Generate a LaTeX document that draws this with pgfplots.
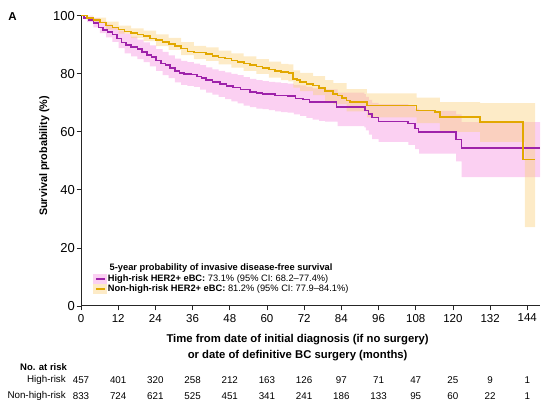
\documentclass[border=0pt]{standalone}
\usepackage{fontspec}
\setmainfont{Liberation Sans}
\usepackage{pgfplots}
\usepackage{pgfplotstable}
\pgfplotsset{compat=1.18}
\usepgfplotslibrary{fillbetween}
\definecolor{purpleline}{RGB}{158,34,170}
\definecolor{pinkband}{RGB}{246,150,226}
\definecolor{yellowline}{RGB}{226,168,0}
\definecolor{yellowband}{RGB}{250,210,130}

\pgfplotstableread{
m v
0 100
1 99.2
2.5 98.6
4 97.5
5.6 96
7.1 95
8.6 94.3
10.1 93.5
11.6 92.2
13.1 90.8
14.6 90
16.2 89.3
18.2 88.5
19.7 87.5
21.2 86.5
22.7 85.7
24.2 84.5
25.8 83.6
27.3 83
28.8 82
30.3 81
31.8 80.3
33.3 80
35.4 79.8
37.4 79.1
38.9 78.6
40.4 77.8
42.4 77.1
44.9 76.5
47 75.8
49 75.2
51.5 74.6
54.5 73.8
56.6 73.4
58.6 73.1
62.6 72.5
66.7 72.3
69.2 71.5
71.7 71.1
73.7 70.2
82.5 68.5
91.6 67.4
92.7 66.2
93.8 65
96 63.6
105.6 62.8
107.8 61.1
108.9 59.9
121 57.4
122.8 54.4
148.1 54.4
}\highrisk

\pgfplotstableread{
m v
0 100
2 99.2
4 98.5
6.1 97.6
8.1 96.6
10.1 96
12.1 95.2
14.1 94.6
16.2 94
18.2 93.5
20.2 93.1
22.2 92.2
24.2 91.6
26.3 91
28.3 90.3
30.3 89.5
32.3 88.7
34.3 87.6
36.4 87.3
40.4 86.8
42.4 86.2
44.4 85.6
46.5 85.2
48.5 84.6
50.5 84
52.5 83.5
54.5 83
56.6 82.5
58.6 82
60.6 81.4
62.6 81
64.6 80.6
66.9 80.3
68.5 78.2
69.7 77.8
70.7 77.1
72.7 76.5
74.9 75.9
76.8 75
78.8 74.1
81.4 73.1
82.8 72.5
84.3 71.6
85.7 70.8
86.8 70.2
92.2 69.1
108.3 67.4
114.2 66.8
115.8 65.1
128.8 63.3
142.7 50.4
146.5 50.4
}\nonhighrisk

\pgfplotstableread{
m up lo
0 100 99.9
2 99.8 97.8
4 99.2 96
6.1 98 94
8.1 97 92.5
10.1 96 91
12.1 94.8 88.8
14.1 93.8 87
16.2 92.8 86
18.2 91.8 85
20.2 90.8 84
22.2 89.8 82.5
24.2 88.5 81
26.3 87.5 79.5
28.3 86.3 78.5
30.3 85.2 77
32.3 84.4 76.2
34.3 84 75.8
36.4 83.5 75.5
38.4 83 74.5
40.4 82.2 73.5
42.4 81.5 72.8
44.4 81 72
46.5 80.5 71.3
48.5 80 70.5
50.5 79.5 69.8
52.5 78.8 69
54.5 78.2 68.5
56.6 77.8 68
58.6 77.5 67.8
60.6 77.2 67.5
62.6 77 67
64.6 76.8 66.8
66.7 76.6 66.6
68.7 76.2 66
70.7 76 65.5
72.7 75.5 64.8
74.7 75 64.2
76.8 74.8 63.8
78.8 74.6 63.5
82.8 73.5 62
91.4 73 61.5
91.9 72 60.5
92.9 71 59
93.9 70 57.5
96 69.5 56.5
105.6 69 55.5
107.8 68 54
109.1 67.2 52.5
121 66 49.8
122.8 63.3 44.4
148.1 63.3 44.4
}\highband

\pgfplotstableread{
m up lo
0 100 99.9
4 99.3 97.6
8.1 98 95.2
12.1 96.6 93.8
16.2 95.6 92.3
20.2 94.9 91.2
24.2 93.6 89.5
28.3 92.4 88.2
32.3 90.9 86.4
36.4 89.6 85
40.4 89.1 84.4
44.4 88 83.2
48.5 87 82.1
52.5 86 81
56.6 85 80
60.6 84.2 78.7
64.6 83.4 77.8
66.9 83.2 77.4
68.5 81.2 75.2
70.7 80.3 74
74.9 79.2 72.6
78.8 77.8 70.5
81.4 76.8 69.5
85.7 74.7 67
92.2 73.2 65
108.3 71.8 63
115.8 70.2 60
128.8 69.9 56.5
143.2 69.9 27.2
146.5 69.9 27.2
}\nonband

\begin{document}
\begin{tikzpicture}
\path (0,0) rectangle (550pt,410pt);
\node[anchor=center, font=\fontsize{11.5}{14}\selectfont\bfseries] at (12.5pt,393pt) {A};
\begin{axis}[
  scale only axis, width=459pt, height=290.3pt,
  at={(81pt,104pt)}, anchor=south west,
  xmin=0, xmax=148.1, ymin=0, ymax=100,
  axis x line*=bottom, axis y line*=left,
  axis line style={-, line width=1pt, black!85},
  xtick={0,12,...,144}, ytick={0,20,...,100},
  tick align=outside, major tick length=4.5pt,
  tick style={black!85, line width=0.8pt},
  xticklabel style={font=\fontsize{11.5}{13}\selectfont},
  yticklabel style={font=\fontsize{13}{15}\selectfont, inner sep=1.5pt},
  /pgf/number format/assume math mode=true,
  clip=false, no markers,
  legend style={at={(axis cs:3.9,7.65)}, anchor=west, draw=none, fill=none,
    font=\fontsize{9.3}{11}\selectfont, inner sep=0pt, row sep=0pt,
    nodes={inner sep=0.6pt}},
  legend cell align=left,
]
\addplot[name path=hu, draw=none, const plot, forget plot] table[x=m, y=up] {\highband};
\addplot[name path=hl, draw=none, const plot, forget plot] table[x=m, y=lo] {\highband};
\addplot[fill=pinkband, fill opacity=0.45, draw=none, forget plot] fill between[of=hu and hl];
\addplot[name path=nu, draw=none, const plot, forget plot] table[x=m, y=up] {\nonband};
\addplot[name path=nl, draw=none, const plot, forget plot] table[x=m, y=lo] {\nonband};
\addplot[fill=yellowband, fill opacity=0.45, draw=none, forget plot] fill between[of=nu and nl];
\addplot[purpleline, line width=1.6pt, const plot, forget plot] table[x=m, y=v] {\highrisk};
\addplot[yellowline, line width=1.6pt, const plot, forget plot] table[x=m, y=v] {\nonhighrisk};

\addlegendimage{legend image code/.code={
  \path[fill=pinkband, fill opacity=0.45, draw=none] (0pt,-5pt) rectangle (14pt,5pt);
  \path[draw=purpleline, line width=1.8pt] (3pt,0pt) -- (12pt,0pt);}}
\addlegendentry{\textbf{High-risk HER2+ eBC:} 73.1\% (95\% CI: 68.2--77.4\%)}
\addlegendimage{legend image code/.code={
  \path[fill=yellowband, fill opacity=0.45, draw=none] (0pt,-5pt) rectangle (14pt,5pt);
  \path[draw=yellowline, line width=1.8pt] (3pt,0pt) -- (12pt,0pt);}}
\addlegendentry{\textbf{Non-high-risk HER2+ eBC:} 81.2\% (95\% CI: 77.9--84.1\%)}

\node[anchor=west, inner sep=0pt, font=\fontsize{9.3}{11}\selectfont\bfseries] at (axis cs:9.2,13.2) {5-year probability of invasive disease-free survival};

\node[rotate=90, font=\fontsize{10.8}{13}\selectfont\bfseries] at (axis cs:-11.8,51.7) {Survival probability (\%)};
\node[align=center, font=\fontsize{11.3}{15.5}\selectfont\bfseries] at (axis cs:69.9,-14.4) {Time from date of initial diagnosis (if no surgery)\\or date of definitive BC surgery (months)};

\node[anchor=west, inner sep=0pt, font=\fontsize{9.5}{11}\selectfont\bfseries] at (axis cs:-19.7,-21.2) {No. at risk};
\node[anchor=east, inner sep=0pt, font=\fontsize{9.8}{11}\selectfont] at (axis cs:-4.84,-25.5) {High-risk};
\node[anchor=east, inner sep=0pt, font=\fontsize{9.8}{11}\selectfont] at (axis cs:-4.84,-30.9) {Non-high-risk};
\begin{scope}[every node/.style={font=\fontsize{9.8}{11}\selectfont}]
\node at (axis cs:0,-25.5) {457};
\node at (axis cs:12,-25.5) {401};
\node at (axis cs:24,-25.5) {320};
\node at (axis cs:36,-25.5) {258};
\node at (axis cs:48,-25.5) {212};
\node at (axis cs:60,-25.5) {163};
\node at (axis cs:72,-25.5) {126};
\node at (axis cs:84,-25.5) {97};
\node at (axis cs:96,-25.5) {71};
\node at (axis cs:108,-25.5) {47};
\node at (axis cs:120,-25.5) {25};
\node at (axis cs:132,-25.5) {9};
\node at (axis cs:144,-25.5) {1};
\node at (axis cs:0,-30.9) {833};
\node at (axis cs:12,-30.9) {724};
\node at (axis cs:24,-30.9) {621};
\node at (axis cs:36,-30.9) {525};
\node at (axis cs:48,-30.9) {451};
\node at (axis cs:60,-30.9) {341};
\node at (axis cs:72,-30.9) {241};
\node at (axis cs:84,-30.9) {186};
\node at (axis cs:96,-30.9) {133};
\node at (axis cs:108,-30.9) {95};
\node at (axis cs:120,-30.9) {60};
\node at (axis cs:132,-30.9) {22};
\node at (axis cs:144,-30.9) {1};
\end{scope}
\end{axis}
\end{tikzpicture}
\end{document}
